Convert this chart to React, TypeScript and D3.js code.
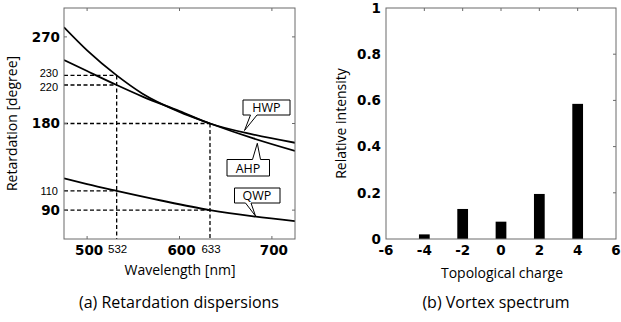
import React from "react";
import * as d3 from "d3";

// (a) retardation curves
const wavelengths = [475, 500, 532, 560, 600, 633, 680, 725];
const hwpValues = [246, 234.5, 220, 208, 193, 180, 168.5, 160];
const ahpValues = [280, 256, 230, 211, 192, 180, 164.5, 151.5];
const qwpWl = [475, 500, 532, 580, 633, 680, 725];
const qwpValues = [123, 117, 110, 100, 90, 83.5, 78.6];

const majorYTicks = [90, 180, 270];
const minorYTicks = [110, 220, 230];
const majorXTicks = [500, 600, 700];
const minorXTicks = [532, 633];

// (b) vortex spectrum
const charges = [-4, -2, 0, 2, 4];
const intensities = [0.02, 0.13, 0.075, 0.195, 0.585];
const chargeTicks = [-6, -4, -2, 0, 2, 4, 6];
const intensityTicks = [0, 0.2, 0.4, 0.6, 0.8, 1];

const W = 621;
const H = 322;
const boxColor = "#6a6a6a";
const sans = "'Open Sans', sans-serif";
const bold = { fontFamily: "'DejaVu Sans', sans-serif", fontWeight: 700, fontSize: 13.5 };
const light = { fontFamily: "'Liberation Sans', sans-serif", fontSize: 11.5 };

const LeftPanel = () => {
  const x = d3.scaleLinear().domain([475, 725]).range([64, 295]);
  const y = d3.scaleLinear().domain([60, 300]).range([239, 8]);
  const line = d3
    .line<[number, number]>()
    .x((d) => x(d[0]))
    .y((d) => y(d[1]))
    .curve(d3.curveMonotoneX);
  const hwp = line(wavelengths.map((w, i) => [w, hwpValues[i]]));
  const ahp = line(wavelengths.map((w, i) => [w, ahpValues[i]]));
  const qwp = line(qwpWl.map((w, i) => [w, qwpValues[i]]));
  const [x0, x1] = x.range();
  const [yb, yt] = y.range();
  const dash = "4,2.5";

  // dashed guides: [wavelength, retardation]
  const guides: [number, number][] = [
    [532, 230],
    [532, 220],
    [532, 110],
    [633, 180],
    [633, 90],
  ];
  // small nudge so the two close labels do not collide
  const nudge = (t: number) => (t === 230 ? -2 : t === 220 ? 2 : 0);

  return (
    <g>
      <g clipPath="url(#clipA)">
        {guides.map(([w, r], i) => (
          <line key={"h" + i} x1={x0} x2={x(w)} y1={y(r)} y2={y(r)} stroke="#000" strokeWidth={1.3} strokeDasharray={dash} />
        ))}
        <line x1={x(532)} x2={x(532)} y1={y(230)} y2={yb} stroke="#000" strokeWidth={1.3} strokeDasharray={dash} />
        <line x1={x(633)} x2={x(633)} y1={y(180)} y2={yb} stroke="#000" strokeWidth={1.3} strokeDasharray={dash} />
        <path d={hwp || ""} fill="none" stroke="#000" strokeWidth={1.8} />
        <path d={ahp || ""} fill="none" stroke="#000" strokeWidth={1.8} />
        <path d={qwp || ""} fill="none" stroke="#000" strokeWidth={1.8} />
      </g>
      <rect x={x0} y={yt} width={x1 - x0} height={yb - yt} fill="none" stroke={boxColor} strokeWidth={1} />
      {majorXTicks.map((t) => (
        <g key={t}>
          <line x1={x(t)} x2={x(t)} y1={yt} y2={yt + 3} stroke={boxColor} />
          <line x1={x(t)} x2={x(t)} y1={yb} y2={yb - 3} stroke={boxColor} />
          <text x={x(t) + 2} y={255} textAnchor="middle" {...bold}>{t}</text>
        </g>
      ))}
      {minorXTicks.map((t) => (
        <text key={t} x={x(t) + 1} y={253} textAnchor="middle" {...light}>{t}</text>
      ))}
      {majorYTicks.map((t) => (
        <g key={t}>
          <line x1={x1} x2={x1 - 3} y1={y(t)} y2={y(t)} stroke={boxColor} />
          <line x1={x0} x2={x0 + 3} y1={y(t)} y2={y(t)} stroke={boxColor} />
          <text x={60} y={y(t)} dy="0.36em" textAnchor="end" {...bold}>{t}</text>
        </g>
      ))}
      {minorYTicks.map((t) => (
        <text key={t} x={58} y={y(t) + nudge(t)} dy="0.36em" textAnchor="end" {...light} fontSize={11}>{t}</text>
      ))}
      <text x={180} y={275} textAnchor="middle" fontFamily={sans} fontSize={14}>Wavelength [nm]</text>
      <text transform={`translate(17,${(yt + yb) / 2}) rotate(-90)`} textAnchor="middle" fontFamily={sans} fontSize={14}>Retardation [degree]</text>

      {/* callouts */}
      <g fill="#fff" stroke="#000" strokeWidth={1}>
        <path d="M243,100 H290 V115 H257 L244.5,130.5 L250.5,115 H243 Z" />
        <path d="M227,159.5 H252.5 L257.3,143.3 L260.5,159.5 H269.5 V176 H227 Z" />
        <path d="M234.5,188 H280 V203 H251 L255.5,216 L245.5,203 H234.5 Z" />
      </g>
      <text x={266.5} y={112} textAnchor="middle" fontFamily={sans} fontSize={12.5}>HWP</text>
      <text x={248} y={172.5} textAnchor="middle" fontFamily={sans} fontSize={12.5}>AHP</text>
      <text x={257} y={200} textAnchor="middle" fontFamily={sans} fontSize={12.5}>QWP</text>
      <text x={179} y={308} textAnchor="middle" fontFamily={sans} fontSize={16}>(a) Retardation dispersions</text>
    </g>
  );
};

const RightPanel = () => {
  const x = d3.scaleLinear().domain([-6, 6]).range([386, 616]);
  const y = d3.scaleLinear().domain([0, 1]).range([239, 8]);
  const [x0, x1] = x.range();
  const [yb, yt] = y.range();
  const barHalf = 0.28;
  return (
    <g>
      {charges.map((c, i) => (
        <rect key={c} x={x(c - barHalf)} y={y(intensities[i])} width={x(c + barHalf) - x(c - barHalf)} height={yb - y(intensities[i])} fill="#000" />
      ))}
      <rect x={x0} y={yt} width={x1 - x0} height={yb - yt} fill="none" stroke={boxColor} strokeWidth={1} />
      {chargeTicks.map((t) => (
        <g key={t}>
          {t > -6 && t < 6 && <line x1={x(t)} x2={x(t)} y1={yt} y2={yt + 3} stroke={boxColor} />}
          <text x={x(t)} y={255} textAnchor="middle" {...bold}>{t}</text>
        </g>
      ))}
      {intensityTicks.map((t) => (
        <g key={t}>
          {t > 0 && t < 1 && <line x1={x1} x2={x1 - 3} y1={y(t)} y2={y(t)} stroke={boxColor} />}
          <text x={381} y={y(t)} dy="0.36em" textAnchor="end" {...bold}>{t}</text>
        </g>
      ))}
      <text x={502} y={278} textAnchor="middle" fontFamily={sans} fontSize={14}>Topological charge</text>
      <text transform={`translate(346,${(yt + yb) / 2}) rotate(-90)`} textAnchor="middle" fontFamily={sans} fontSize={14}>Relative intensity</text>
      <text x={496} y={308} textAnchor="middle" fontFamily={sans} fontSize={16}>(b) Vortex spectrum</text>
    </g>
  );
};

export default function App() {
  return (
    <div style={{ position: "absolute", left: 0, top: 0, background: "#fff" }}>
      <svg width={W} height={H} style={{ display: "block" }}>
        <defs>
          <clipPath id="clipA">
            <rect x={64} y={8} width={231} height={231} />
          </clipPath>
        </defs>
        <rect width={W} height={H} fill="#fff" />
        <LeftPanel />
        <RightPanel />
      </svg>
    </div>
  );
}
